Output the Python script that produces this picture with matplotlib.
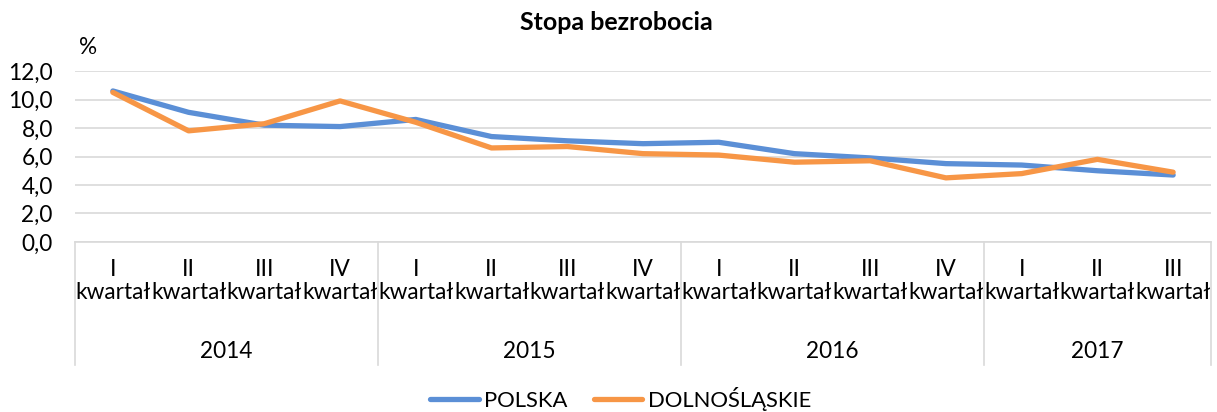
import matplotlib
matplotlib.use("Agg")
import matplotlib.pyplot as plt
import matplotlib.transforms as mtransforms

# quarterly unemployment rate, %
quarters = ["I", "II", "III", "IV", "I", "II", "III", "IV",
            "I", "II", "III", "IV", "I", "II", "III"]
years = ["2014", "2015", "2016", "2017"]
year_quarters = [4, 4, 4, 3]

polska = [10.6, 9.1, 8.2, 8.1, 8.6, 7.4, 7.1, 6.9, 7.0, 6.2, 5.9, 5.5, 5.4, 5.0, 4.7]
dolnoslaskie = [10.5, 7.8, 8.3, 9.9, 8.4, 6.6, 6.7, 6.2, 6.1, 5.6, 5.7, 4.5, 4.8, 5.8, 4.9]

BLUE = '#5B8FD6'
ORANGE = '#F79646'
GRID = '#D9D9D9'
TEXT = '#000000'
FONT = ['Lato', 'DejaVu Sans']

plt.rcParams['font.family'] = FONT
plt.rcParams['font.size'] = 16.3

fig = plt.figure(figsize=(12.17, 4.12), dpi=100)
ax = fig.add_axes([75 / 1217, 1 - 242 / 412, (1211 - 75) / 1217, 171 / 412])

x = list(range(len(quarters)))
ax.plot(x, polska, color=BLUE, linewidth=3.8, solid_capstyle='round',
        solid_joinstyle='round', label='POLSKA', zorder=3)
ax.plot(x, dolnoslaskie, color=ORANGE, linewidth=3.8, solid_capstyle='round',
        solid_joinstyle='round', label='DOLNOŚLĄSKIE', zorder=3)

ax.set_xlim(-0.5, len(quarters) - 0.5)
ax.set_ylim(0, 12)
ax.set_yticks(range(0, 13, 2))
ax.set_yticklabels([f'{v:.1f}'.replace('.', ',') for v in range(0, 13, 2)])
ax.yaxis.grid(True, color=GRID, linewidth=1.2)
ax.set_axisbelow(True)

for side in ['top', 'right', 'left']:
    ax.spines[side].set_visible(False)
ax.spines['bottom'].set_color(GRID)
ax.spines['bottom'].set_linewidth(1.2)

ax.tick_params(axis='y', length=0, pad=16, colors=TEXT)
ax.set_xticks(x)
ax.set_xticklabels([f'{q}\nkwartał' for q in quarters], linespacing=1.15)
ax.tick_params(axis='x', length=0, pad=12, colors=TEXT)

# multi-level category axis: year labels and separators
trans = mtransforms.blended_transform_factory(ax.transData, ax.transAxes)
start = -0.5
bounds = [start]
for yr, n in zip(years, year_quarters):
    centre = start + n / 2
    ax.text(centre, -0.643, yr, transform=trans, ha='center', va='center',
            color=TEXT)
    start += n
    bounds.append(start)
for b in bounds:
    ax.plot([b, b], [0, -0.72], transform=trans, color=GRID,
            linewidth=1.2, clip_on=False)

fig.text(616 / 1217, 1 - 22 / 412, 'Stopa bezrobocia', ha='center',
         va='center', fontweight='bold', fontsize=18)
fig.text(88 / 1217, 1 - 47 / 412, '%', ha='center', va='center')

fig.legend(loc='center', bbox_to_anchor=(0.51, 1 - 399 / 412), ncol=2,
           frameon=False, handlelength=2.2, handletextpad=0.25,
           columnspacing=1.2, borderaxespad=0, fontsize=15.8)

fig.savefig('out.png', dpi=100)
